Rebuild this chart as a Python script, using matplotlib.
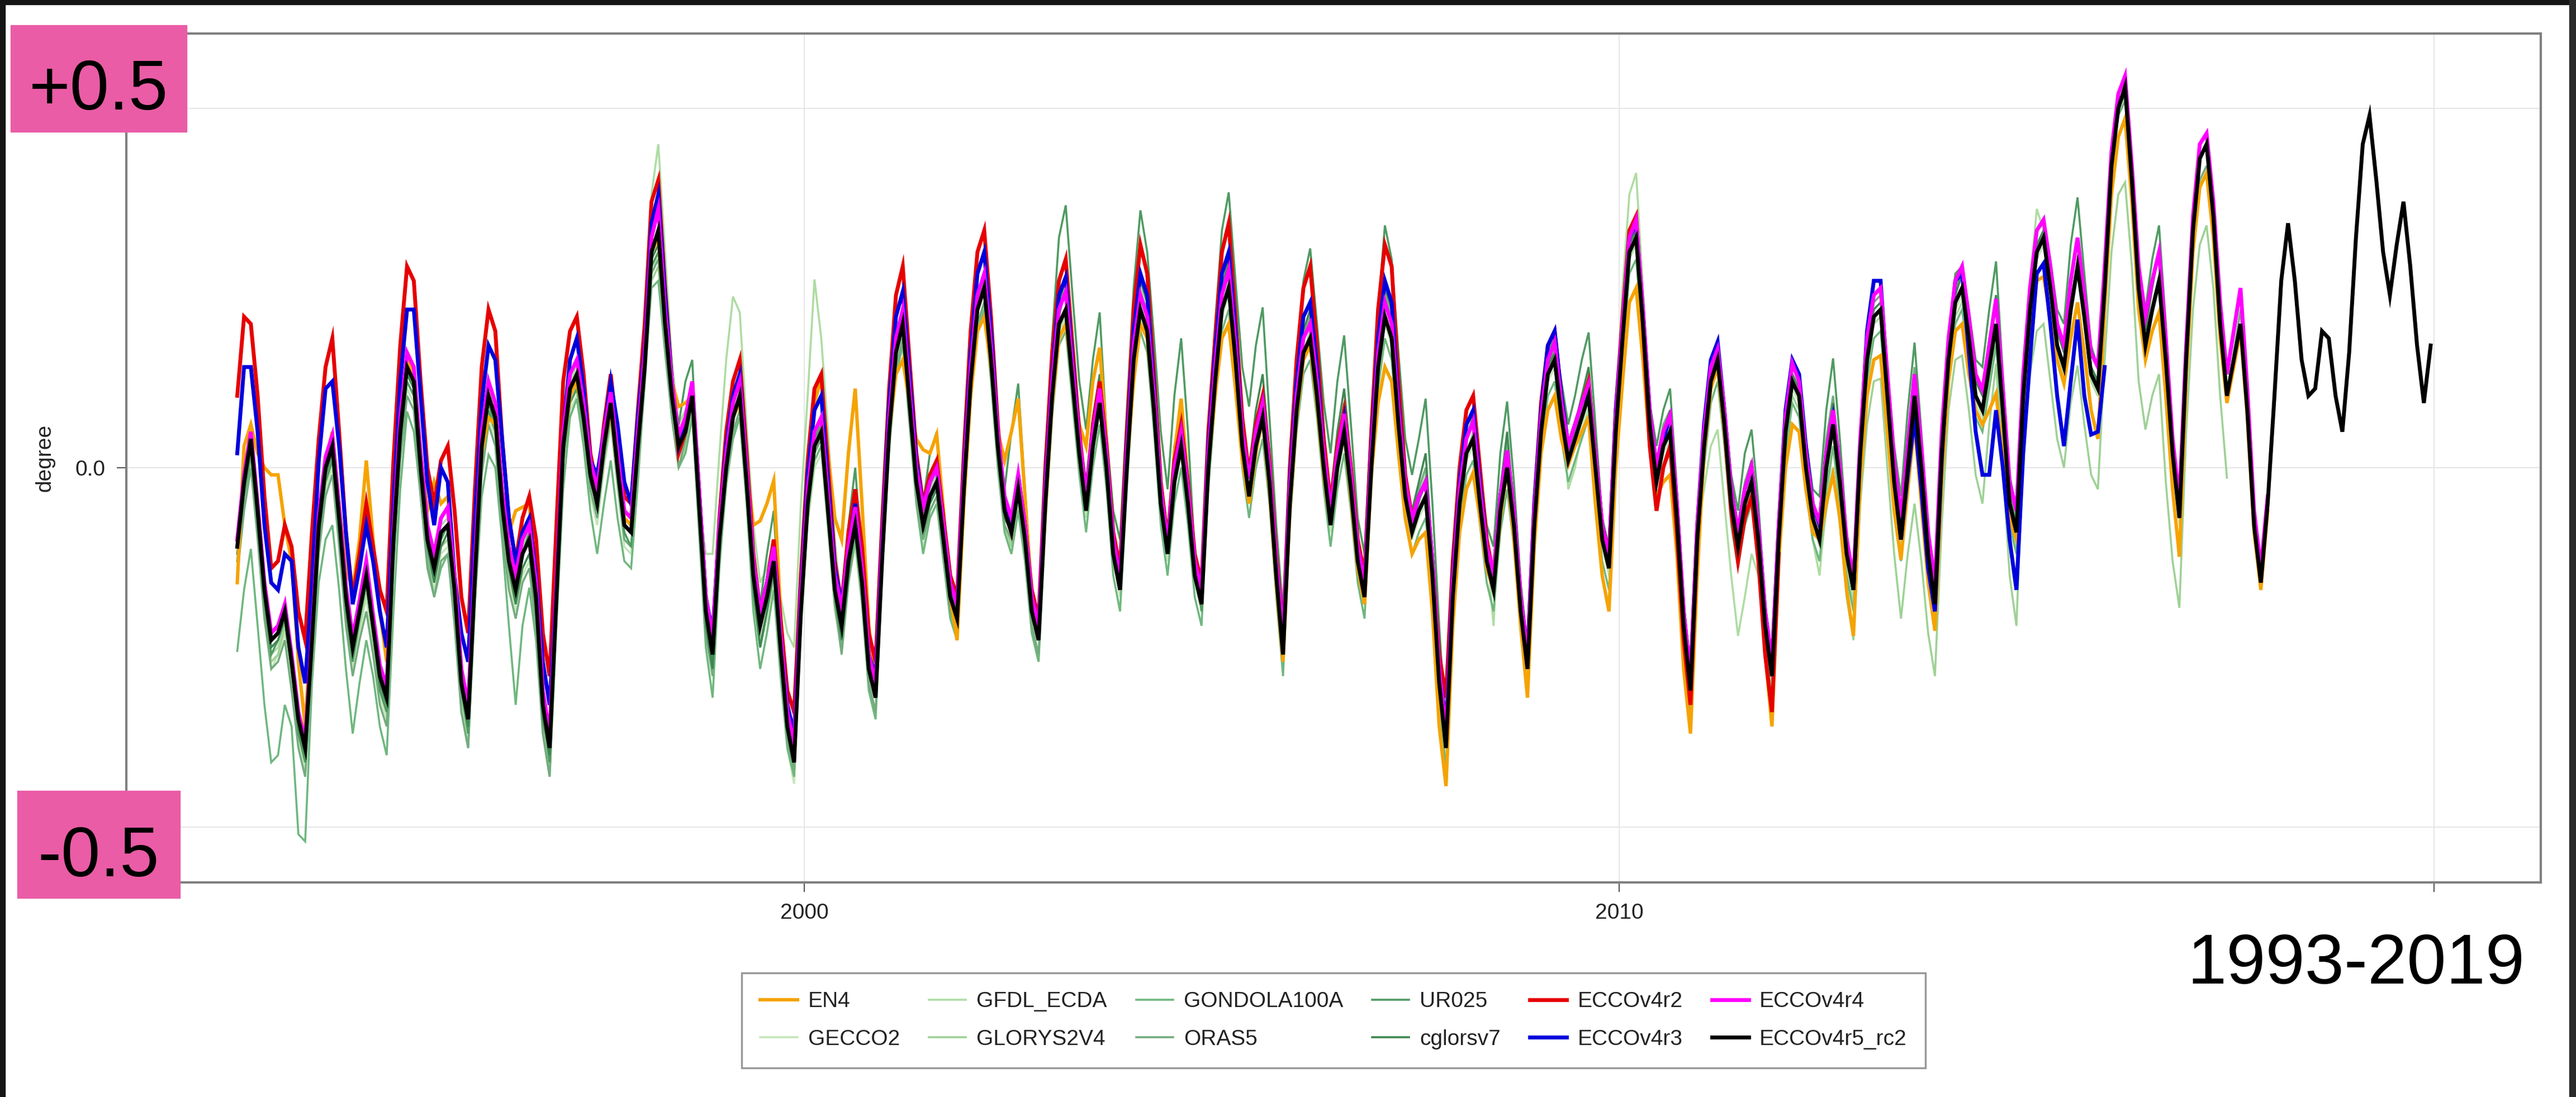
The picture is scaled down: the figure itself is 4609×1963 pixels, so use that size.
import numpy as np
import matplotlib
matplotlib.use("Agg")
import matplotlib.pyplot as plt
from matplotlib.patches import Rectangle

plt.rcParams['font.family'] = ['Liberation Sans', 'DejaVu Sans']
plt.rcParams['axes.unicode_minus'] = False

# monthly values in degree, one row per year, starting January 1993
start_year = 1993

en4 = [
    -0.16, 0.03, 0.06, 0.02, 0.00, -0.01, -0.01, -0.08, -0.13, -0.27, -0.36, -0.20,
    -0.08, 0.01, 0.05, -0.05, -0.14, -0.17, -0.10, 0.01, -0.10, -0.20, -0.27, -0.08,
    0.06, 0.15, 0.13, 0.02, -0.06, -0.02, -0.05, -0.04, -0.15, -0.28, -0.33, -0.13,
    0.02, 0.07, 0.06, -0.03, -0.09, -0.06, -0.055, -0.05, -0.16, -0.31, -0.39, -0.17,
    0.03, 0.10, 0.12, 0.07, -0.01, -0.04, 0.03, 0.08, 0.00, -0.07, -0.08, 0.04,
    0.15, 0.30, 0.32, 0.20, 0.12, 0.085, 0.09, 0.10, -0.03, -0.18, -0.24, -0.09,
    0.00, 0.07, 0.09, 0.00, -0.08, -0.074, -0.05, -0.018, -0.20, -0.34, -0.40, -0.19,
    -0.02, 0.09, 0.124, 0.02, -0.07, -0.10, 0.02, 0.11, -0.05, -0.22, -0.30, -0.11,
    0.05, 0.13, 0.15, 0.09, 0.04, 0.025, 0.02, 0.046, -0.06, -0.18, -0.24, -0.05,
    0.10, 0.19, 0.21, 0.14, 0.05, 0.01, 0.05, 0.096, -0.04, -0.18, -0.23, -0.06,
    0.09, 0.18, 0.20, 0.13, 0.06, 0.03, 0.12, 0.167, 0.04, -0.11, -0.17, 0.00,
    0.12, 0.20, 0.18, 0.08, -0.04, -0.10, 0.02, 0.096, -0.02, -0.14, -0.19, 0.00,
    0.10, 0.18, 0.20, 0.11, 0.01, -0.05, 0.02, 0.07, -0.03, -0.16, -0.27, -0.06,
    0.07, 0.15, 0.17, 0.09, -0.01, -0.08, 0.00, 0.05, -0.04, -0.14, -0.19, -0.01,
    0.09, 0.14, 0.12, 0.02, -0.07, -0.12, -0.10, -0.09, -0.20, -0.36, -0.443, -0.22,
    -0.09, -0.03, -0.007, -0.07, -0.14, -0.17, -0.07, 0.00, -0.10, -0.22, -0.32, -0.11,
    0.02, 0.08, 0.10, 0.04, 0.004, 0.03, 0.05, 0.07, -0.05, -0.15, -0.20, 0.00,
    0.12, 0.23, 0.25, 0.15, 0.03, -0.04, -0.02, -0.01, -0.12, -0.28, -0.37, -0.15,
    0.02, 0.11, 0.14, 0.05, -0.06, -0.11, -0.05, -0.02, -0.12, -0.26, -0.36, -0.13,
    0.00, 0.06, 0.05, -0.03, -0.09, -0.10, -0.05, -0.01, -0.07, -0.17, -0.234, -0.02,
    0.10, 0.15, 0.156, 0.05, -0.06, -0.128, -0.03, 0.06, -0.05, -0.16, -0.227, -0.02,
    0.12, 0.19, 0.20, 0.13, 0.08, 0.06, 0.08, 0.103, 0.02, -0.07, -0.10, 0.08,
    0.19, 0.26, 0.266, 0.21, 0.15, 0.117, 0.18, 0.23, 0.16, 0.08, 0.04, 0.22,
    0.38, 0.46, 0.486, 0.37, 0.22, 0.15, 0.19, 0.216, 0.10, -0.03, -0.124, 0.12,
    0.30, 0.39, 0.41, 0.32, 0.18, 0.09, 0.14, 0.19, 0.07, -0.09, -0.17, -0.06,
]

gecco2 = [
    -0.14, -0.06, 0.00, -0.09, -0.21, -0.28, -0.26, -0.23, -0.30, -0.38, -0.42, -0.27,
    -0.11, -0.03, 0.00, -0.10, -0.21, -0.28, -0.23, -0.18, -0.25, -0.32, -0.35, -0.13,
    0.02, 0.11, 0.09, -0.03, -0.13, -0.17, -0.12, -0.11, -0.20, -0.33, -0.38, -0.18,
    0.00, 0.07, 0.04, -0.08, -0.16, -0.20, -0.15, -0.13, -0.21, -0.36, -0.42, -0.21,
    0.00, 0.08, 0.10, 0.04, -0.04, -0.08, 0.00, 0.06, -0.03, -0.11, -0.12, 0.00,
    0.11, 0.27, 0.30, 0.17, 0.07, 0.00, 0.02, 0.07, -0.08, -0.23, -0.29, -0.13,
    -0.03, 0.04, 0.07, -0.05, -0.18, -0.25, -0.21, -0.16, -0.28, -0.39, -0.44, -0.23,
    -0.08, 0.00, 0.02, -0.09, -0.20, -0.25, -0.16, -0.11, -0.19, -0.31, -0.35, -0.15,
    0.02, 0.13, 0.17, 0.06, -0.05, -0.11, -0.07, -0.05, -0.13, -0.21, -0.24, -0.06,
    0.09, 0.19, 0.22, 0.12, 0.00, -0.09, -0.12, -0.06, -0.13, -0.23, -0.27, -0.08,
    0.09, 0.19, 0.21, 0.11, 0.01, -0.07, 0.02, 0.08, -0.01, -0.13, -0.18, -0.01,
    0.14, 0.21, 0.18, 0.07, -0.06, -0.13, -0.03, 0.02, -0.06, -0.16, -0.20, -0.01,
    0.11, 0.21, 0.24, 0.14, 0.02, -0.05, 0.02, 0.06, -0.03, -0.16, -0.27, -0.06,
    0.07, 0.15, 0.17, 0.09, -0.01, -0.09, -0.01, 0.04, -0.04, -0.14, -0.19, -0.01,
    0.13, 0.20, 0.17, 0.05, -0.05, -0.10, -0.07, -0.05, -0.16, -0.31, -0.40, -0.19,
    -0.06, 0.01, 0.03, -0.06, -0.14, -0.18, -0.07, -0.01, -0.09, -0.21, -0.29, -0.09,
    0.04, 0.12, 0.14, 0.06, 0.00, 0.03, 0.06, 0.09, -0.01, -0.11, -0.15, 0.04,
    0.17, 0.29, 0.31, 0.19, 0.05, -0.03, 0.02, 0.04, -0.08, -0.23, -0.32, -0.11,
    0.02, 0.11, 0.14, 0.05, -0.06, -0.12, -0.06, -0.03, -0.11, -0.23, -0.30, -0.11,
    0.04, 0.11, 0.09, -0.01, -0.08, -0.11, -0.01, 0.05, -0.03, -0.13, -0.18, 0.01,
    0.14, 0.20, 0.21, 0.09, -0.03, -0.11, -0.01, 0.09, -0.01, -0.13, -0.20, 0.01,
    0.14, 0.22, 0.24, 0.17, 0.09, 0.07, 0.13, 0.19, 0.07, -0.06, -0.10, 0.09,
    0.21, 0.29, 0.31, 0.24, 0.16, 0.13, 0.21, 0.27, 0.20, 0.12, 0.10, 0.24,
    0.41, 0.49, 0.52, 0.39, 0.24, 0.16, 0.21, 0.25, 0.14, 0.01, -0.08, 0.14,
]

gfdl_ecda = [
    -0.10, -0.01, 0.05, -0.05, -0.17, -0.26, -0.25, -0.21, -0.28, -0.36, -0.40, -0.25,
    -0.07, 0.01, 0.04, -0.06, -0.17, -0.24, -0.19, -0.14, -0.21, -0.30, -0.33, -0.11,
    0.06, 0.15, 0.13, 0.01, -0.09, -0.13, -0.08, -0.07, -0.16, -0.30, -0.36, -0.16,
    0.04, 0.11, 0.08, -0.04, -0.12, -0.16, -0.11, -0.09, -0.17, -0.32, -0.38, -0.17,
    0.04, 0.12, 0.14, 0.08, 0.00, -0.04, 0.04, 0.10, 0.01, -0.07, -0.08, 0.06,
    0.20, 0.38, 0.45, 0.30, 0.15, 0.06, 0.08, 0.10, -0.05, -0.12, -0.12, 0.02,
    0.15, 0.238, 0.216, 0.06, -0.08, -0.16, -0.14, -0.10, -0.18, -0.23, -0.25, -0.05,
    0.10, 0.262, 0.18, 0.05, -0.10, -0.20, -0.12, -0.06, -0.15, -0.27, -0.31, -0.10,
    0.07, 0.17, 0.20, 0.10, -0.01, -0.07, -0.03, -0.01, -0.09, -0.17, -0.20, -0.02,
    0.13, 0.23, 0.25, 0.16, 0.04, -0.05, -0.08, -0.02, -0.09, -0.19, -0.23, -0.04,
    0.12, 0.22, 0.25, 0.14, 0.04, -0.03, 0.05, 0.11, 0.02, -0.10, -0.15, 0.02,
    0.17, 0.25, 0.22, 0.10, -0.03, -0.10, 0.01, 0.06, -0.03, -0.13, -0.17, 0.02,
    0.14, 0.25, 0.29, 0.18, 0.05, -0.01, 0.05, 0.10, 0.00, -0.13, -0.24, -0.03,
    0.10, 0.19, 0.22, 0.13, 0.02, -0.05, 0.03, 0.09, -0.01, -0.11, -0.16, 0.02,
    0.16, 0.25, 0.22, 0.08, -0.02, -0.07, -0.04, -0.01, -0.13, -0.29, -0.38, -0.16,
    -0.03, 0.05, 0.07, -0.03, -0.11, -0.22, -0.04, 0.03, -0.06, -0.18, -0.27, -0.06,
    0.07, 0.16, 0.19, 0.09, -0.03, 0.00, 0.05, 0.08, -0.02, -0.10, -0.14, 0.07,
    0.25, 0.38, 0.41, 0.25, 0.08, 0.00, 0.03, 0.06, -0.06, -0.21, -0.30, -0.09,
    -0.03, 0.03, 0.053, -0.05, -0.15, -0.234, -0.18, -0.12, -0.15, -0.24, -0.30, -0.10,
    0.05, 0.15, 0.13, 0.00, -0.10, -0.15, -0.05, 0.03, -0.05, -0.14, -0.19, 0.00,
    0.13, 0.20, 0.21, 0.09, -0.04, -0.12, -0.02, 0.08, -0.02, -0.14, -0.21, 0.00,
    0.13, 0.21, 0.23, 0.16, 0.08, 0.06, 0.12, 0.18, 0.06, -0.07, -0.11, 0.08,
    0.26, 0.36, 0.33, 0.26, 0.17, 0.13, 0.21, 0.27, 0.20, 0.12, 0.10, 0.23,
]

glorys2v4 = [
    -0.13, -0.04, 0.01, -0.09, -0.20, -0.27, -0.26, -0.22, -0.29, -0.37, -0.41, -0.26,
    -0.10, -0.02, 0.01, -0.09, -0.20, -0.27, -0.22, -0.17, -0.24, -0.31, -0.34, -0.12,
    0.03, 0.12, 0.10, -0.02, -0.12, -0.16, -0.11, -0.10, -0.19, -0.32, -0.37, -0.17,
    0.01, 0.08, 0.05, -0.07, -0.15, -0.19, -0.14, -0.12, -0.20, -0.35, -0.41, -0.20,
    0.01, 0.09, 0.11, 0.05, -0.03, -0.07, 0.01, 0.07, -0.02, -0.10, -0.11, 0.01,
    0.12, 0.26, 0.28, 0.17, 0.08, 0.00, 0.03, 0.08, -0.07, -0.23, -0.29, -0.12,
    -0.02, 0.05, 0.07, -0.04, -0.17, -0.24, -0.20, -0.15, -0.27, -0.38, -0.43, -0.22,
    -0.07, 0.01, 0.03, -0.08, -0.19, -0.24, -0.15, -0.10, -0.18, -0.30, -0.34, -0.14,
    0.03, 0.14, 0.18, 0.07, -0.04, -0.10, -0.06, -0.04, -0.12, -0.20, -0.23, -0.05,
    0.10, 0.20, 0.23, 0.13, 0.01, -0.08, -0.11, -0.05, -0.12, -0.22, -0.26, -0.07,
    0.09, 0.19, 0.22, 0.12, 0.02, -0.05, 0.04, 0.10, 0.00, -0.12, -0.17, 0.00,
    0.14, 0.22, 0.20, 0.08, -0.04, -0.11, -0.01, 0.05, -0.04, -0.14, -0.18, 0.01,
    0.12, 0.22, 0.26, 0.15, 0.03, -0.03, 0.04, 0.09, -0.01, -0.14, -0.25, -0.04,
    0.08, 0.16, 0.19, 0.11, 0.01, -0.07, 0.01, 0.07, -0.02, -0.12, -0.17, 0.01,
    0.14, 0.21, 0.18, 0.06, -0.04, -0.09, -0.05, -0.02, -0.14, -0.29, -0.38, -0.17,
    -0.05, 0.02, 0.05, -0.04, -0.12, -0.16, -0.05, 0.02, -0.07, -0.19, -0.27, -0.07,
    0.05, 0.13, 0.16, 0.08, 0.02, 0.05, 0.08, 0.11, 0.00, -0.10, -0.14, 0.05,
    0.18, 0.29, 0.32, 0.20, 0.06, -0.02, 0.03, 0.06, -0.07, -0.22, -0.31, -0.10,
    0.03, 0.11, 0.14, 0.06, -0.05, -0.11, -0.05, -0.01, -0.10, -0.22, -0.29, -0.10,
    0.03, 0.10, 0.08, -0.03, -0.10, -0.13, -0.06, 0.00, -0.08, -0.18, -0.24, -0.05,
    0.06, 0.12, 0.124, 0.00, -0.12, -0.21, -0.12, -0.05, -0.13, -0.23, -0.29, -0.08,
    0.08, 0.15, 0.156, 0.08, -0.01, -0.05, 0.06, 0.145, 0.00, -0.15, -0.22, 0.02,
    0.13, 0.19, 0.20, 0.12, 0.04, 0.00, 0.09, 0.142, 0.06, -0.01, -0.03, 0.15,
    0.30, 0.38, 0.397, 0.28, 0.12, 0.053, 0.10, 0.13, -0.02, -0.13, -0.195, 0.05,
    0.22, 0.31, 0.337, 0.25, 0.10, -0.014,
]

gondola100a = [
    -0.255, -0.17, -0.113, -0.22, -0.33, -0.41, -0.40, -0.33, -0.36, -0.51, -0.52, -0.30,
    -0.16, -0.10, -0.08, -0.17, -0.28, -0.37, -0.30, -0.24, -0.29, -0.36, -0.40, -0.20,
    -0.03, 0.078, 0.05, -0.04, -0.13, -0.18, -0.14, -0.12, -0.22, -0.34, -0.39, -0.19,
    -0.04, 0.018, 0.00, -0.10, -0.22, -0.33, -0.22, -0.167, -0.24, -0.37, -0.43, -0.22,
    -0.03, 0.07, 0.096, 0.03, -0.06, -0.12, -0.05, 0.01, -0.07, -0.13, -0.14, -0.02,
    0.12, 0.25, 0.26, 0.16, 0.07, 0.00, 0.02, 0.07, -0.09, -0.25, -0.32, -0.14,
    -0.02, 0.04, 0.07, -0.05, -0.20, -0.28, -0.23, -0.17, -0.29, -0.39, -0.43, -0.22,
    -0.07, 0.01, 0.03, -0.08, -0.19, -0.25, -0.16, -0.10, -0.19, -0.31, -0.35, -0.14,
    0.03, 0.13, 0.17, 0.06, -0.05, -0.12, -0.07, -0.05, -0.13, -0.21, -0.24, -0.06,
    0.09, 0.19, 0.22, 0.12, 0.00, -0.09, -0.12, -0.06, -0.13, -0.23, -0.27, -0.08,
    0.07, 0.17, 0.19, 0.09, -0.01, -0.09, 0.00, 0.06, -0.03, -0.15, -0.20, -0.03,
    0.12, 0.19, 0.16, 0.05, -0.08, -0.15, -0.05, 0.00, -0.08, -0.18, -0.22, -0.03,
    0.09, 0.19, 0.22, 0.12, 0.00, -0.07, 0.00, 0.04, -0.05, -0.18, -0.29, -0.08,
    0.05, 0.13, 0.15, 0.07, -0.03, -0.11, -0.03, 0.02, -0.06, -0.16, -0.21, -0.03,
    0.11, 0.18, 0.15, 0.03, -0.07, -0.12, -0.09, -0.07, -0.18, -0.33, -0.42, -0.21,
    -0.08, -0.01, 0.01, -0.08, -0.16, -0.20, -0.09, -0.03, -0.11, -0.23, -0.31, -0.11,
    0.02, 0.10, 0.12, 0.04, -0.02, 0.01, 0.04, 0.07, -0.03, -0.13, -0.17, 0.02,
    0.15, 0.27, 0.29, 0.17, 0.03, -0.05, 0.00, 0.02, -0.10, -0.25, -0.34, -0.13,
    0.00, 0.09, 0.12, 0.03, -0.08, -0.14, -0.08, -0.05, -0.13, -0.25, -0.32, -0.13,
    0.02, 0.09, 0.07, -0.03, -0.10, -0.13, -0.03, 0.03, -0.05, -0.15, -0.20, -0.01,
    0.12, 0.18, 0.19, 0.07, -0.05, -0.13, -0.03, 0.07, -0.03, -0.15, -0.22, -0.01,
    0.12, 0.20, 0.22, 0.15, 0.07, 0.05, 0.11, 0.17, 0.05, -0.08, -0.12, 0.07,
]

oras5 = [
    -0.15, -0.06, 0.00, -0.10, -0.21, -0.28, -0.27, -0.24, -0.31, -0.39, -0.43, -0.28,
    -0.12, -0.04, -0.01, -0.11, -0.22, -0.29, -0.24, -0.20, -0.26, -0.33, -0.36, -0.14,
    0.01, 0.10, 0.08, -0.04, -0.14, -0.18, -0.13, -0.12, -0.21, -0.34, -0.39, -0.19,
    -0.01, 0.06, 0.03, -0.09, -0.17, -0.21, -0.16, -0.14, -0.22, -0.37, -0.43, -0.22,
    0.01, 0.09, 0.11, 0.05, -0.03, -0.07, 0.01, 0.07, -0.02, -0.10, -0.11, 0.01,
    0.12, 0.27, 0.29, 0.17, 0.07, 0.00, 0.04, 0.09, -0.08, -0.23, -0.29, -0.12,
    -0.02, 0.05, 0.08, -0.04, -0.17, -0.25, -0.20, -0.15, -0.27, -0.38, -0.42, -0.21,
    -0.06, 0.02, 0.04, -0.08, -0.19, -0.26, -0.16, -0.09, -0.18, -0.30, -0.34, -0.13,
    0.04, 0.14, 0.18, 0.07, -0.04, -0.10, -0.06, -0.04, -0.12, -0.20, -0.23, -0.04,
    0.10, 0.20, 0.23, 0.13, 0.01, -0.08, -0.10, -0.04, -0.12, -0.22, -0.26, -0.07,
    0.10, 0.21, 0.25, 0.14, 0.03, -0.04, 0.05, 0.11, 0.01, -0.10, -0.15, 0.01,
    0.16, 0.24, 0.22, 0.10, -0.03, -0.10, 0.01, 0.06, -0.03, -0.13, -0.17, 0.02,
    0.13, 0.24, 0.28, 0.17, 0.05, -0.01, 0.06, 0.10, 0.00, -0.13, -0.24, -0.03,
    0.09, 0.18, 0.21, 0.12, 0.02, -0.05, 0.03, 0.09, -0.01, -0.11, -0.16, 0.02,
    0.15, 0.24, 0.21, 0.08, -0.02, -0.07, -0.03, 0.00, -0.13, -0.28, -0.36, -0.16,
    -0.04, 0.04, 0.07, -0.03, -0.11, -0.14, -0.03, 0.04, -0.06, -0.18, -0.26, -0.07,
    0.06, 0.14, 0.17, 0.09, 0.03, 0.06, 0.10, 0.13, 0.01, -0.09, -0.13, 0.06,
    0.19, 0.31, 0.34, 0.22, 0.08, 0.01, 0.06, 0.08, -0.05, -0.20, -0.29, -0.09,
    0.04, 0.13, 0.16, 0.07, -0.03, -0.08, -0.02, 0.01, -0.08, -0.20, -0.27, -0.09,
    0.06, 0.13, 0.11, 0.02, -0.05, -0.07, 0.04, 0.10, 0.00, -0.10, -0.15, 0.03,
    0.16, 0.23, 0.24, 0.12, 0.00, -0.07, 0.04, 0.14, 0.02, -0.10, -0.17, 0.04,
    0.17, 0.25, 0.27, 0.20, 0.12, 0.11, 0.18, 0.24, 0.10, -0.03, -0.07, 0.12,
    0.23, 0.31, 0.33, 0.27, 0.19, 0.17, 0.26, 0.32, 0.23, 0.14, 0.12, 0.27,
    0.42, 0.49, 0.51, 0.39, 0.25, 0.19, 0.26, 0.30, 0.16, 0.02, -0.07, 0.14,
    0.31, 0.40, 0.42, 0.33, 0.19, 0.10, 0.16, 0.22, 0.08, -0.09, -0.17, -0.06,
]

ur025 = [
    -0.13, -0.04, 0.02, -0.08, -0.19, -0.26, -0.24, -0.21, -0.28, -0.37, -0.41, -0.26,
    -0.10, -0.02, 0.01, -0.09, -0.20, -0.27, -0.21, -0.16, -0.23, -0.31, -0.34, -0.12,
    0.03, 0.12, 0.10, -0.02, -0.11, -0.15, -0.10, -0.08, -0.18, -0.31, -0.37, -0.17,
    0.01, 0.08, 0.05, -0.07, -0.14, -0.18, -0.12, -0.09, -0.19, -0.34, -0.41, -0.20,
    0.01, 0.09, 0.11, 0.06, -0.02, -0.05, 0.05, 0.11, 0.00, -0.09, -0.11, 0.02,
    0.13, 0.28, 0.30, 0.20, 0.11, 0.06, 0.12, 0.15, -0.04, -0.20, -0.27, -0.11,
    0.01, 0.08, 0.10, -0.01, -0.13, -0.19, -0.12, -0.06, -0.22, -0.35, -0.40, -0.19,
    -0.04, 0.04, 0.06, -0.05, -0.15, -0.20, -0.08, 0.00, -0.13, -0.27, -0.31, -0.11,
    0.06, 0.17, 0.21, 0.10, 0.00, -0.05, 0.02, 0.05, -0.07, -0.17, -0.20, -0.02,
    0.13, 0.23, 0.26, 0.16, 0.05, -0.03, 0.05, 0.117, -0.03, -0.17, -0.22, -0.03,
    0.18, 0.32, 0.365, 0.24, 0.12, 0.053, 0.15, 0.216, 0.05, -0.06, -0.10, 0.08,
    0.25, 0.358, 0.30, 0.18, 0.05, -0.03, 0.10, 0.18, 0.05, -0.12, -0.20, 0.04,
    0.20, 0.33, 0.383, 0.26, 0.14, 0.085, 0.17, 0.223, 0.07, -0.08, -0.20, 0.02,
    0.15, 0.26, 0.305, 0.20, 0.09, 0.02, 0.12, 0.184, 0.06, -0.07, -0.12, 0.07,
    0.22, 0.337, 0.29, 0.16, 0.04, -0.01, 0.04, 0.096, -0.05, -0.22, -0.37, -0.14,
    -0.02, 0.06, 0.07, 0.00, -0.08, -0.11, 0.02, 0.092, -0.02, -0.16, -0.25, -0.05,
    0.08, 0.16, 0.18, 0.12, 0.06, 0.10, 0.15, 0.188, 0.06, -0.07, -0.11, 0.08,
    0.20, 0.32, 0.34, 0.22, 0.09, 0.03, 0.08, 0.11, -0.03, -0.19, -0.28, -0.07,
    0.05, 0.14, 0.17, 0.09, -0.01, -0.06, 0.02, 0.053, -0.05, -0.19, -0.27, -0.08,
    0.07, 0.14, 0.13, 0.04, -0.03, -0.04, 0.08, 0.152, 0.04, -0.09, -0.15, 0.04,
    0.18, 0.24, 0.25, 0.14, 0.03, -0.04, 0.08, 0.174, 0.05, -0.09, -0.17, 0.05,
    0.18, 0.27, 0.28, 0.22, 0.15, 0.14, 0.22, 0.287, 0.13, -0.01, -0.06, 0.14,
    0.25, 0.33, 0.34, 0.29, 0.22, 0.20, 0.31, 0.376, 0.27, 0.17, 0.14, 0.28,
    0.43, 0.50, 0.52, 0.41, 0.28, 0.22, 0.29, 0.337, 0.20, 0.04, -0.05, 0.16,
]

cglorsv7 = [
    -0.12, -0.03, 0.03, -0.07, -0.18, -0.25, -0.24, -0.21, -0.28, -0.36, -0.40, -0.25,
    -0.09, -0.01, 0.02, -0.08, -0.19, -0.26, -0.21, -0.16, -0.23, -0.30, -0.33, -0.11,
    0.04, 0.13, 0.11, -0.01, -0.11, -0.16, -0.11, -0.09, -0.18, -0.31, -0.36, -0.16,
    0.02, 0.09, 0.06, -0.06, -0.14, -0.19, -0.14, -0.12, -0.20, -0.35, -0.40, -0.19,
    0.03, 0.10, 0.12, 0.07, -0.01, -0.06, 0.02, 0.08, 0.00, -0.08, -0.09, 0.03,
    0.14, 0.29, 0.31, 0.20, 0.10, 0.02, 0.06, 0.11, -0.06, -0.22, -0.28, -0.11,
    0.00, 0.07, 0.09, -0.03, -0.17, -0.25, -0.20, -0.14, -0.26, -0.36, -0.41, -0.20,
    -0.05, 0.03, 0.05, -0.06, -0.18, -0.24, -0.15, -0.08, -0.16, -0.28, -0.32, -0.12,
    0.05, 0.16, 0.20, 0.09, -0.02, -0.09, -0.05, -0.03, -0.11, -0.19, -0.22, -0.03,
    0.12, 0.22, 0.25, 0.15, 0.03, -0.07, -0.09, -0.02, -0.10, -0.20, -0.24, -0.05,
    0.12, 0.23, 0.26, 0.15, 0.05, -0.02, 0.07, 0.13, 0.03, -0.09, -0.14, 0.02,
    0.18, 0.26, 0.23, 0.11, -0.02, -0.09, 0.03, 0.08, -0.02, -0.12, -0.16, 0.02,
    0.14, 0.25, 0.29, 0.18, 0.06, 0.00, 0.08, 0.13, 0.02, -0.12, -0.23, -0.03,
    0.10, 0.19, 0.22, 0.13, 0.03, -0.04, 0.05, 0.11, 0.01, -0.10, -0.15, 0.02,
    0.16, 0.25, 0.22, 0.09, -0.01, -0.06, -0.02, 0.02, -0.12, -0.27, -0.37, -0.16,
    -0.04, 0.04, 0.06, -0.03, -0.11, -0.15, -0.03, 0.05, -0.06, -0.18, -0.27, -0.07,
    0.06, 0.14, 0.16, 0.09, 0.03, 0.06, 0.10, 0.14, 0.02, -0.09, -0.13, 0.06,
    0.19, 0.31, 0.33, 0.21, 0.07, 0.00, 0.05, 0.08, -0.05, -0.21, -0.30, -0.09,
    0.04, 0.13, 0.15, 0.07, -0.04, -0.09, -0.03, 0.01, -0.09, -0.21, -0.28, -0.09,
    0.06, 0.13, 0.11, 0.01, -0.06, -0.08, 0.03, 0.09, 0.00, -0.11, -0.16, 0.03,
    0.16, 0.22, 0.23, 0.12, 0.00, -0.08, 0.03, 0.13, 0.02, -0.11, -0.18, 0.03,
    0.16, 0.24, 0.27, 0.20, 0.12, 0.10, 0.17, 0.24, 0.10, -0.04, -0.08, 0.11,
    0.23, 0.31, 0.33, 0.27, 0.19, 0.16, 0.25, 0.32, 0.23, 0.14, 0.12, 0.26,
    0.42, 0.50, 0.52, 0.40, 0.26, 0.19, 0.25, 0.30, 0.16, 0.03, -0.06, 0.15,
]

ecco_v4r2 = [
    0.10, 0.21, 0.20, 0.10, -0.04, -0.14, -0.13, -0.08, -0.11, -0.20, -0.24, -0.09,
    0.04, 0.14, 0.18, 0.05, -0.09, -0.18, -0.12, -0.05, -0.11, -0.17, -0.20, 0.01,
    0.17, 0.28, 0.26, 0.12, 0.00, -0.05, 0.01, 0.03, -0.06, -0.18, -0.23, -0.03,
    0.14, 0.22, 0.19, 0.04, -0.07, -0.13, -0.07, -0.04, -0.10, -0.23, -0.29, -0.08,
    0.12, 0.19, 0.21, 0.13, 0.02, -0.03, 0.06, 0.13, 0.04, -0.04, -0.05, 0.08,
    0.20, 0.37, 0.40, 0.25, 0.12, 0.02, 0.05, 0.11, -0.03, -0.18, -0.24, -0.07,
    0.05, 0.12, 0.15, 0.02, -0.12, -0.20, -0.16, -0.10, -0.21, -0.31, -0.34, -0.15,
    0.01, 0.11, 0.13, 0.00, -0.13, -0.19, -0.09, -0.03, -0.11, -0.23, -0.27, -0.07,
    0.11, 0.24, 0.28, 0.15, 0.02, -0.05, -0.01, 0.01, -0.07, -0.15, -0.18, 0.02,
    0.19, 0.30, 0.33, 0.21, 0.06, -0.06, -0.09, -0.02, -0.08, -0.17, -0.21, 0.00,
    0.16, 0.26, 0.29, 0.17, 0.05, -0.04, 0.06, 0.12, 0.03, -0.09, -0.14, 0.05,
    0.22, 0.31, 0.27, 0.13, -0.02, -0.10, 0.01, 0.06, -0.02, -0.12, -0.16, 0.05,
    0.18, 0.30, 0.34, 0.21, 0.07, -0.01, 0.06, 0.10, 0.01, -0.12, -0.23, 0.00,
    0.15, 0.25, 0.28, 0.17, 0.04, -0.05, 0.03, 0.08, 0.00, -0.10, -0.15, 0.05,
    0.22, 0.31, 0.28, 0.12, -0.01, -0.07, -0.04, -0.02, -0.13, -0.26, -0.32, -0.13,
    0.00, 0.08, 0.10, 0.00, -0.10, -0.15, -0.04, 0.02, -0.06, -0.18, -0.26, -0.05,
    0.09, 0.17, 0.19, 0.10, 0.03, 0.06, 0.09, 0.12, 0.02, -0.08, -0.12, 0.08,
    0.21, 0.33, 0.35, 0.20, 0.03, -0.06, 0.00, 0.03, -0.09, -0.24, -0.33, -0.10,
    0.04, 0.14, 0.17, 0.06, -0.06, -0.13, -0.07, -0.04, -0.13, -0.26, -0.34, -0.12,
]

ecco_v4r3 = [
    0.02, 0.14, 0.14, 0.05, -0.08, -0.16, -0.17, -0.12, -0.13, -0.25, -0.30, -0.16,
    0.01, 0.11, 0.12, 0.03, -0.09, -0.19, -0.14, -0.08, -0.13, -0.20, -0.25, -0.05,
    0.12, 0.22, 0.22, 0.10, -0.02, -0.08, 0.00, -0.02, -0.15, -0.23, -0.27, -0.07,
    0.09, 0.17, 0.15, 0.04, -0.07, -0.13, -0.09, -0.07, -0.15, -0.27, -0.33, -0.16,
    0.05, 0.15, 0.18, 0.11, 0.01, -0.01, 0.05, 0.12, 0.06, -0.02, -0.05, 0.07,
    0.17, 0.34, 0.38, 0.24, 0.12, 0.03, 0.06, 0.11, -0.03, -0.18, -0.23, -0.08,
    0.03, 0.10, 0.13, 0.00, -0.13, -0.20, -0.16, -0.11, -0.23, -0.33, -0.37, -0.17,
    -0.01, 0.08, 0.10, -0.02, -0.14, -0.19, -0.11, -0.05, -0.14, -0.26, -0.29, -0.09,
    0.09, 0.21, 0.245, 0.13, 0.01, -0.055, -0.02, 0.00, -0.08, -0.16, -0.19, 0.00,
    0.16, 0.27, 0.30, 0.19, 0.05, -0.05, -0.08, -0.01, -0.08, -0.18, -0.22, -0.02,
    0.13, 0.24, 0.265, 0.15, 0.04, -0.04, 0.05, 0.11, 0.02, -0.10, -0.155, 0.03,
    0.19, 0.27, 0.24, 0.11, -0.03, -0.105, 0.00, 0.05, -0.03, -0.13, -0.17, 0.03,
    0.16, 0.27, 0.30, 0.19, 0.05, -0.015, 0.05, 0.09, 0.00, -0.13, -0.235, -0.02,
    0.12, 0.21, 0.23, 0.14, 0.02, -0.06, 0.02, 0.07, -0.01, -0.11, -0.16, 0.03,
    0.18, 0.26, 0.23, 0.09, -0.02, -0.075, -0.04, -0.02, -0.13, -0.28, -0.36, -0.15,
    -0.02, 0.06, 0.08, -0.02, -0.11, -0.15, -0.04, 0.02, -0.06, -0.18, -0.26, -0.05,
    0.08, 0.17, 0.19, 0.10, 0.03, 0.06, 0.09, 0.11, 0.02, -0.08, -0.125, 0.08,
    0.20, 0.32, 0.34, 0.22, 0.08, 0.00, 0.04, 0.07, -0.05, -0.20, -0.29, -0.08,
    0.06, 0.15, 0.175, 0.08, -0.03, -0.09, -0.03, 0.00, -0.08, -0.20, -0.27, -0.08,
    0.08, 0.15, 0.13, 0.03, -0.05, -0.08, 0.02, 0.07, -0.01, -0.11, -0.17, 0.03,
    0.19, 0.26, 0.26, 0.12, -0.01, -0.10, -0.01, 0.07, -0.03, -0.14, -0.20, 0.01,
    0.17, 0.26, 0.27, 0.16, 0.05, -0.01, -0.01, 0.08, 0.00, -0.10, -0.17, 0.02,
    0.15, 0.27, 0.284, 0.20, 0.10, 0.03, 0.12, 0.206, 0.10, 0.046, 0.05, 0.14,
]

ecco_v4r4 = [
    -0.10, -0.01, 0.05, -0.05, -0.16, -0.23, -0.22, -0.19, -0.26, -0.34, -0.38, -0.23,
    -0.065, 0.015, 0.045, -0.055, -0.165, -0.235, -0.185, -0.13, -0.205, -0.275, -0.305, -0.085,
    0.07, 0.16, 0.14, 0.02, -0.08, -0.12, -0.07, -0.055, -0.15, -0.28, -0.33, -0.13,
    0.05, 0.12, 0.09, -0.03, -0.11, -0.15, -0.10, -0.08, -0.16, -0.31, -0.37, -0.16,
    0.05, 0.13, 0.15, 0.09, 0.01, -0.03, 0.05, 0.105, 0.02, -0.06, -0.07, 0.05,
    0.16, 0.32, 0.36, 0.22, 0.12, 0.045, 0.07, 0.12, -0.03, -0.18, -0.235, -0.08,
    0.02, 0.09, 0.12, 0.00, -0.13, -0.20, -0.16, -0.11, -0.23, -0.34, -0.385, -0.18,
    -0.03, 0.05, 0.07, -0.04, -0.15, -0.195, -0.11, -0.055, -0.14, -0.26, -0.30, -0.10,
    0.07, 0.18, 0.22, 0.11, 0.00, -0.055, -0.02, 0.00, -0.08, -0.16, -0.19, -0.01,
    0.14, 0.24, 0.27, 0.17, 0.05, -0.04, -0.07, -0.01, -0.08, -0.18, -0.22, -0.03,
    0.12, 0.22, 0.245, 0.14, 0.04, -0.037, 0.05, 0.11, 0.02, -0.10, -0.155, 0.02,
    0.17, 0.24, 0.21, 0.10, -0.03, -0.105, 0.00, 0.05, -0.03, -0.13, -0.17, 0.02,
    0.14, 0.24, 0.275, 0.17, 0.05, -0.015, 0.05, 0.09, 0.00, -0.13, -0.235, -0.03,
    0.10, 0.18, 0.20, 0.12, 0.02, -0.058, 0.02, 0.075, -0.01, -0.11, -0.16, 0.02,
    0.16, 0.23, 0.20, 0.08, -0.02, -0.072, -0.04, -0.02, -0.13, -0.28, -0.37, -0.16,
    -0.03, 0.04, 0.065, -0.03, -0.11, -0.147, -0.04, 0.024, -0.06, -0.18, -0.264, -0.06,
    0.07, 0.15, 0.175, 0.09, 0.031, 0.06, 0.09, 0.116, 0.02, -0.08, -0.122, 0.07,
    0.20, 0.32, 0.345, 0.22, 0.08, 0.002, 0.05, 0.073, -0.05, -0.20, -0.29, -0.08,
    0.05, 0.14, 0.165, 0.08, -0.03, -0.09, -0.03, 0.002, -0.08, -0.20, -0.27, -0.08,
    0.07, 0.145, 0.12, 0.02, -0.05, -0.076, 0.02, 0.08, 0.00, -0.10, -0.154, 0.04,
    0.18, 0.24, 0.25, 0.13, 0.01, -0.069, 0.03, 0.13, 0.03, -0.09, -0.16, 0.05,
    0.18, 0.26, 0.28, 0.21, 0.13, 0.108, 0.17, 0.235, 0.11, -0.02, -0.06, 0.13,
    0.25, 0.33, 0.345, 0.28, 0.20, 0.17, 0.26, 0.32, 0.24, 0.16, 0.14, 0.28,
    0.44, 0.52, 0.545, 0.42, 0.28, 0.21, 0.26, 0.30, 0.18, 0.04, -0.045, 0.17,
    0.35, 0.45, 0.465, 0.37, 0.23, 0.13, 0.19, 0.25, 0.11, -0.06, -0.14, -0.04,
]

ecco_v4r5_rc2 = [
    -0.11, -0.02, 0.04, -0.06, -0.17, -0.24, -0.23, -0.20, -0.27, -0.35, -0.39, -0.24,
    -0.08, 0.00, 0.03, -0.07, -0.18, -0.25, -0.20, -0.15, -0.22, -0.29, -0.32, -0.10,
    0.05, 0.14, 0.12, 0.00, -0.10, -0.14, -0.09, -0.08, -0.17, -0.30, -0.35, -0.15,
    0.03, 0.10, 0.07, -0.05, -0.13, -0.17, -0.12, -0.10, -0.18, -0.33, -0.39, -0.18,
    0.03, 0.11, 0.13, 0.07, -0.01, -0.05, 0.03, 0.09, 0.00, -0.08, -0.09, 0.03,
    0.14, 0.30, 0.33, 0.20, 0.10, 0.03, 0.05, 0.10, -0.05, -0.20, -0.26, -0.10,
    0.00, 0.07, 0.10, -0.02, -0.15, -0.22, -0.18, -0.13, -0.25, -0.36, -0.41, -0.20,
    -0.05, 0.03, 0.05, -0.06, -0.17, -0.22, -0.13, -0.08, -0.16, -0.28, -0.32, -0.12,
    0.05, 0.16, 0.20, 0.09, -0.02, -0.08, -0.04, -0.02, -0.10, -0.18, -0.21, -0.03,
    0.12, 0.22, 0.25, 0.15, 0.03, -0.06, -0.09, -0.03, -0.10, -0.20, -0.24, -0.05,
    0.10, 0.20, 0.22, 0.12, 0.02, -0.06, 0.03, 0.09, 0.00, -0.12, -0.17, 0.00,
    0.15, 0.22, 0.19, 0.08, -0.05, -0.12, -0.02, 0.03, -0.05, -0.15, -0.19, 0.00,
    0.12, 0.22, 0.25, 0.15, 0.03, -0.04, 0.03, 0.07, -0.02, -0.15, -0.26, -0.05,
    0.08, 0.16, 0.18, 0.10, 0.00, -0.08, 0.00, 0.05, -0.03, -0.13, -0.18, 0.00,
    0.14, 0.21, 0.18, 0.06, -0.04, -0.09, -0.06, -0.04, -0.15, -0.30, -0.39, -0.18,
    -0.05, 0.02, 0.04, -0.05, -0.13, -0.17, -0.06, 0.00, -0.08, -0.20, -0.28, -0.08,
    0.05, 0.13, 0.15, 0.07, 0.01, 0.04, 0.07, 0.10, 0.00, -0.10, -0.14, 0.05,
    0.18, 0.30, 0.32, 0.20, 0.06, -0.02, 0.03, 0.05, -0.07, -0.22, -0.31, -0.10,
    0.03, 0.12, 0.15, 0.06, -0.05, -0.11, -0.05, -0.02, -0.10, -0.22, -0.29, -0.10,
    0.05, 0.12, 0.10, 0.00, -0.07, -0.10, 0.00, 0.06, -0.02, -0.12, -0.17, 0.02,
    0.15, 0.21, 0.22, 0.10, -0.02, -0.10, 0.00, 0.10, 0.00, -0.12, -0.19, 0.02,
    0.15, 0.23, 0.25, 0.18, 0.10, 0.08, 0.14, 0.20, 0.08, -0.05, -0.09, 0.10,
    0.22, 0.30, 0.32, 0.25, 0.17, 0.14, 0.22, 0.28, 0.21, 0.13, 0.11, 0.25,
    0.42, 0.50, 0.53, 0.40, 0.25, 0.17, 0.22, 0.26, 0.15, 0.02, -0.07, 0.15,
    0.33, 0.43, 0.45, 0.35, 0.20, 0.10, 0.15, 0.20, 0.08, -0.08, -0.16, -0.05,
    0.10, 0.26, 0.34, 0.26, 0.15, 0.10, 0.11, 0.19, 0.18, 0.10, 0.05, 0.16,
    0.32, 0.45, 0.49, 0.40, 0.30, 0.24, 0.31, 0.37, 0.28, 0.17, 0.09, 0.17,
]

# name, values, colour, line width -- in legend order
series = [
    ("EN4", en4, "#f5a300", 4.4),
    ("GECCO2", gecco2, "#c4e6b9", 2.6),
    ("GFDL_ECDA", gfdl_ecda, "#aedca2", 2.6),
    ("GLORYS2V4", glorys2v4, "#9fd196", 2.6),
    ("GONDOLA100A", gondola100a, "#6fb77e", 2.6),
    ("ORAS5", oras5, "#74ab7f", 2.6),
    ("UR025", ur025, "#4f9a62", 2.6),
    ("cglorsv7", cglorsv7, "#3f8752", 2.6),
    ("ECCOv4r2", ecco_v4r2, "#e60000", 5.0),
    ("ECCOv4r3", ecco_v4r3, "#0000dd", 5.0),
    ("ECCOv4r4", ecco_v4r4, "#ff00ff", 5.0),
    ("ECCOv4r5_rc2", ecco_v4r5_rc2, "#000000", 5.0),
]
draw_order = ["GECCO2", "GFDL_ECDA", "GLORYS2V4", "GONDOLA100A", "ORAS5", "UR025",
              "cglorsv7", "EN4", "ECCOv4r2", "ECCOv4r3", "ECCOv4r4", "ECCOv4r5_rc2"]

W, H = 4609, 1963
fig = plt.figure(figsize=(W / 100, H / 100), dpi=100)
fig.patch.set_facecolor("white")
ax = fig.add_axes([226 / W, (H - 1579) / H, (4546 - 226) / W, (1579 - 60) / H])

lookup = {s[0]: s for s in series}
handles = {}
for z, name in enumerate(draw_order):
    _, vals, color, lw = lookup[name]
    t = start_year + (np.arange(len(vals)) + 0.5) / 12.0
    line, = ax.plot(t, vals, color=color, lw=lw, label=name, zorder=2 + z * 0.1,
                    solid_joinstyle="miter")
    handles[name] = line

ax.set_xlim(1991.68, 2021.31)
ax.set_ylim(-0.577, 0.604)
ax.set_xticks([2000, 2010, 2020])
ax.set_xticklabels(["2000", "2010", ""])
# the +/-0.5 labels sit under the pink markers, only 0.0 shows
ax.set_yticks([-0.5, 0.0, 0.5])
ax.set_yticklabels(["", "0.0", ""])
ax.grid(True, color="#e6e6e6", lw=1.4)
ax.set_axisbelow(True)
ax.tick_params(direction="out", length=12, width=1.5, color="#555555",
               labelsize=28, labelcolor="#222222", pad=15)
for sp in ax.spines.values():
    sp.set_color("#808080")
    sp.set_linewidth(3)
ax.set_ylabel("degree", fontsize=28, color="#222222")
ax.yaxis.set_label_coords(-0.0295, 0.5)

leg = fig.legend([handles[s[0]] for s in series], [s[0] for s in series],
                 loc="center", bbox_to_anchor=(2386 / W, (H - 1826) / H),
                 ncol=6, fontsize=28, frameon=True, fancybox=False,
                 handlelength=1.7, handletextpad=0.49, columnspacing=1.34,
                 labelspacing=0.8, borderpad=0.85)
leg.get_frame().set_edgecolor("#808080")
leg.get_frame().set_linewidth(2.5)
for txt in leg.get_texts():
    txt.set_color("#222222")

# pink markers over the +/-0.5 ticks
pink = "#ea5ca6"
fig.add_artist(Rectangle((19 / W, (H - 236) / H), 315 / W, 191 / H,
                         transform=fig.transFigure, color=pink, zorder=5))
fig.add_artist(Rectangle((31 / W, (H - 1607) / H), 291 / W, 192 / H,
                         transform=fig.transFigure, color=pink, zorder=5))
fig.text(176 / W, (H - 196) / H, "+0.5", fontsize=91, ha="center", va="baseline",
         color="black", zorder=6)
fig.text(176 / W, (H - 1568) / H, "-0.5", fontsize=91, ha="center", va="baseline",
         color="black", zorder=6)
fig.text(4517 / W, (H - 1760) / H, "1993-2019", fontsize=91, ha="right",
         va="baseline", color="black", zorder=6)

# dark frame of the screenshot
fig.add_artist(Rectangle((0, 0), 9 / W, 1, transform=fig.transFigure,
                         color="#151515", zorder=7))
fig.add_artist(Rectangle((0, 1 - 8 / H), 1, 8 / H, transform=fig.transFigure,
                         color="#151515", zorder=7))
fig.add_artist(Rectangle((1 - 12 / W, 0), 12 / W, 1, transform=fig.transFigure,
                         color="#2b2b2b", zorder=7))

fig.savefig("out.png", dpi=100, facecolor="white")
